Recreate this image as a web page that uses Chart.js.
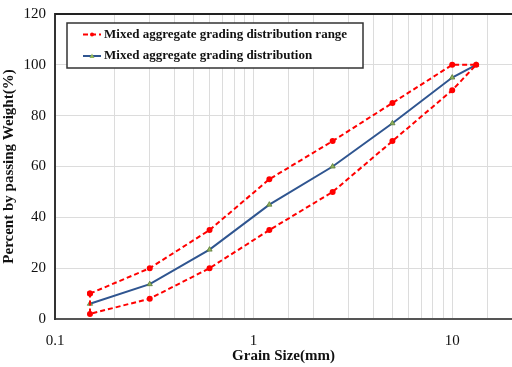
<!DOCTYPE html>
<html>
<head>
<meta charset="utf-8">
<script src="https://cdn.jsdelivr.net/npm/chart.js@4"></script>
<style>
  html, body { margin: 0; padding: 0; background: #fff; }
  #box { width: 512px; height: 367px; }
</style>
</head>
<body>
<div id="box"><canvas id="gradingChart"></canvas></div>
<script>
// sieve sizes (mm) and passing percentages
const sieveSizes = [0.15, 0.3, 0.6, 1.2, 2.5, 5, 10, 13.2];
const upperLimit = [10, 20, 35, 55, 70, 85, 100, 100];
const lowerLimit = [2, 8, 20, 35, 50, 70, 90, 100];
const mixedGrading = [6, 13.7, 27.3, 45, 60, 77, 95, 100];
const yTicks = [0, 20, 40, 60, 80, 100, 120];

// range drawn as one closed outline: up the upper limit, back down the lower one
const rangePoints = [];
sieveSizes.forEach((s, i) => rangePoints.push({ x: s, y: upperLimit[i] }));
for (let i = sieveSizes.length - 2; i >= 0; i--) rangePoints.push({ x: sieveSizes[i], y: lowerLimit[i] });
rangePoints.push({ x: sieveSizes[0], y: upperLimit[0] });

const gradingPoints = sieveSizes.map((s, i) => ({ x: s, y: mixedGrading[i] }));

// boxed legend inside the plot + top frame line
const boxLegend = {
    id: "boxLegend",
    afterDraw(chart) {
        const c = chart.ctx;
        const area = chart.chartArea;
        c.save();
        c.strokeStyle = "#222";
        c.lineWidth = 2;
        c.beginPath();
        c.moveTo(area.left, area.top);
        c.lineTo(area.right, area.top);
        c.stroke();

        c.fillStyle = "#fff";
        c.fillRect(67, 23, 296, 45);
        c.lineWidth = 1.5;
        c.strokeStyle = "#333";
        c.strokeRect(67, 23, 296, 45);

        c.font = "bold 13px 'Liberation Serif'";
        c.textBaseline = "middle";
        chart.data.datasets.forEach((ds, i) => {
            const y = 34.5 + i * 21.5;
            c.strokeStyle = ds.borderColor;
            c.lineWidth = 2;
            c.setLineDash(ds.borderDash || []);
            c.beginPath();
            c.moveTo(83, y);
            c.lineTo(101, y);
            c.stroke();
            c.setLineDash([]);
            c.fillStyle = ds.pointBackgroundColor;
            c.beginPath();
            if (ds.pointStyle === "triangle") {
                c.moveTo(92, y - 2.5);
                c.lineTo(94.5, y + 2);
                c.lineTo(89.5, y + 2);
                c.closePath();
            } else {
                c.arc(92, y, 2, 0, Math.PI * 2);
            }
            c.fill();
            c.fillStyle = "#111";
            c.fillText(ds.label, 104, y);
        });
        c.restore();
    }
};

new Chart(document.getElementById("gradingChart"), {
    type: "line",
    data: {
        datasets: [
            {
                label: "Mixed aggregate grading distribution range",
                data: rangePoints,
                borderColor: "#ff0000",
                borderWidth: 2,
                borderDash: [5, 3],
                pointStyle: "circle",
                pointRadius: 2,
                pointBackgroundColor: "#ff0000",
                pointBorderColor: "#ff0000",
                tension: 0
            },
            {
                label: "Mixed aggregate grading distribution",
                data: gradingPoints,
                borderColor: "#2f5590",
                borderWidth: 2,
                pointStyle: "triangle",
                pointRadius: 3,
                pointBackgroundColor: "#8fb35a",
                pointBorderColor: "#5a7a3a",
                pointBorderWidth: 0.8,
                tension: 0
            }
        ]
    },
    options: {
        responsive: true,
        maintainAspectRatio: false,
        animation: false,
        layout: { autoPadding: false, padding: { top: 14, right: 0, left: 0, bottom: 0 } },
        plugins: {
            legend: { display: false },
            tooltip: { enabled: false }
        },
        scales: {
            x: {
                type: "logarithmic",
                min: 0.1,
                max: 20,
                afterFit: s => { s.height = 48; s.paddingLeft = 0; s.paddingRight = 0; },
                border: { color: "#555", width: 2 },
                grid: { color: "#dcdcdc", drawTicks: false },
                ticks: {
                    autoSkip: false,
                    maxRotation: 0,
                    padding: 13,
                    color: "#111",
                    font: { family: "Liberation Serif", size: 15 },
                    callback: v => ([0.1, 1, 10].includes(Number(v.toPrecision(3))) ? String(Number(v.toPrecision(3))) : "")
                },
                title: {
                    display: true,
                    text: "Grain Size(mm)",
                    color: "#111",
                    font: { family: "Liberation Serif", size: 15, weight: "bold" },
                    padding: { top: 0, bottom: 2 }
                }
            },
            y: {
                min: 0,
                max: 120,
                afterFit: s => { s.width = 55; s.paddingTop = 0; s.paddingBottom = 0; },
                afterBuildTicks: s => { s.ticks = yTicks.map(v => ({ value: v })); },
                border: { color: "#333", width: 2 },
                grid: { color: "#dcdcdc", drawTicks: false },
                ticks: {
                    padding: 9,
                    color: "#111",
                    font: { family: "Liberation Serif", size: 15 }
                },
                title: {
                    display: true,
                    text: "Percent by passing Weight(%)",
                    color: "#111",
                    font: { family: "Liberation Serif", size: 15, weight: "bold" },
                    padding: { top: 0, bottom: 0 }
                }
            }
        }
    },
    plugins: [boxLegend]
});
</script>
</body>
</html>
